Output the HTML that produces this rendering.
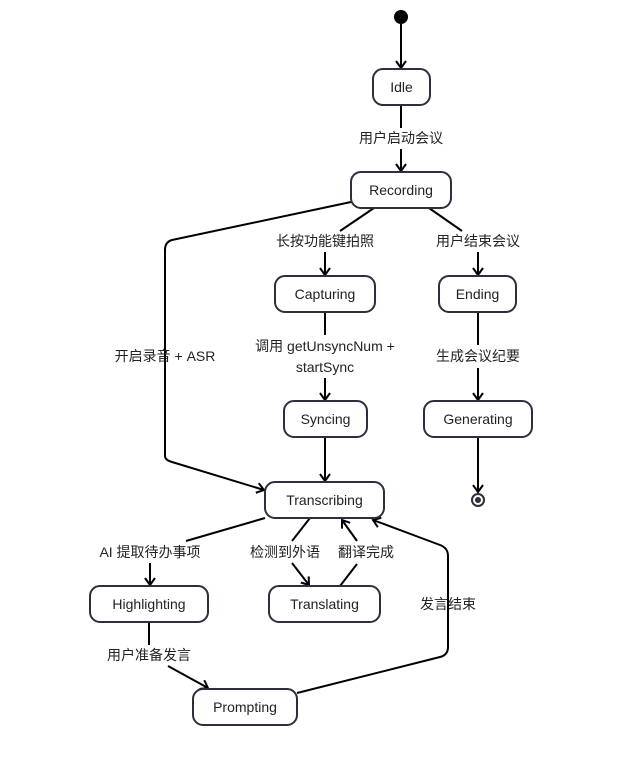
<!DOCTYPE html>
<html><head><meta charset="utf-8"><style>
html,body{margin:0;padding:0;background:#fff;}
text{font-family:"Liberation Sans","Noto Sans CJK SC",sans-serif;font-size:14px;fill:#333;}
.n{fill:#fff;stroke:#2e2e3e;stroke-width:2;}
.nt{font-size:14px;fill:#222;text-anchor:middle;dominant-baseline:central;}
.l{text-anchor:middle;dominant-baseline:central;fill:#222;}
.e{fill:none;stroke:#000;stroke-width:2;}
</style></head><body>
<svg width="626" height="762" viewBox="0 0 626 762" xmlns="http://www.w3.org/2000/svg">
<defs><marker id="a" markerWidth="12" markerHeight="12" refX="10" refY="6" orient="auto" markerUnits="userSpaceOnUse"><path d="M3,1 L10,6 L3,11" fill="none" stroke="#000" stroke-width="2"/></marker></defs>
<circle cx="401" cy="17" r="7" fill="#000"/>
<path class="e" d="M401,24 V68" marker-end="url(#a)"/>
<path class="e" d="M401,105 V128"/><path class="e" d="M401,149 V171" marker-end="url(#a)"/>
<path class="e" d="M374,208 L340,231"/><path class="e" d="M325,252 V275" marker-end="url(#a)"/>
<path class="e" d="M429,208 L462,231"/><path class="e" d="M478,252 V275" marker-end="url(#a)"/>
<path class="e" d="M351,202 L172,240 Q165,242 165,250 V456 Q165,460 172,462 L264,490" marker-end="url(#a)"/>
<path class="e" d="M325,312 V335"/><path class="e" d="M325,378 V400" marker-end="url(#a)"/>
<path class="e" d="M478,312 V345"/><path class="e" d="M478,368 V400" marker-end="url(#a)"/>
<path class="e" d="M478,437 V492" marker-end="url(#a)"/>
<path class="e" d="M325,437 V481" marker-end="url(#a)"/>
<path class="e" d="M265,518 L186,541"/><path class="e" d="M150,563 V585" marker-end="url(#a)"/>
<path class="e" d="M310,518 L292,541"/><path class="e" d="M292,563 L309,585" marker-end="url(#a)"/>
<path class="e" d="M340,586 L357,564"/><path class="e" d="M357,541 L342,520" marker-end="url(#a)"/>
<path class="e" d="M297,693 L440,657 Q448,655 448,647 V556 Q448,548 440,545 L373,520" marker-end="url(#a)"/>
<path class="e" d="M149,622 V645"/><path class="e" d="M168,666 L208,688" marker-end="url(#a)"/>
<circle cx="478" cy="500" r="6" fill="#fff" stroke="#2e2e3e" stroke-width="2"/><circle cx="478" cy="500" r="3" fill="#2e2e3e"/>
<rect class="n" x="373" y="69" width="57" height="36" rx="10"/><text class="nt" x="401.5" y="87">Idle</text>
<rect class="n" x="351" y="172" width="100" height="36" rx="10"/><text class="nt" x="401" y="190">Recording</text>
<rect class="n" x="275" y="276" width="100" height="36" rx="10"/><text class="nt" x="325" y="294">Capturing</text>
<rect class="n" x="439" y="276" width="77" height="36" rx="10"/><text class="nt" x="477.5" y="294">Ending</text>
<rect class="n" x="284" y="401" width="83" height="36" rx="10"/><text class="nt" x="325.5" y="419">Syncing</text>
<rect class="n" x="424" y="401" width="108" height="36" rx="10"/><text class="nt" x="478" y="419">Generating</text>
<rect class="n" x="265" y="482" width="119" height="36" rx="10"/><text class="nt" x="324.5" y="500">Transcribing</text>
<rect class="n" x="90" y="586" width="118" height="36" rx="10"/><text class="nt" x="149" y="604">Highlighting</text>
<rect class="n" x="269" y="586" width="111" height="36" rx="10"/><text class="nt" x="324.5" y="604">Translating</text>
<rect class="n" x="193" y="689" width="104" height="36" rx="10"/><text class="nt" x="245" y="707">Prompting</text>
<text class="l" x="401" y="138">用户启动会议</text>
<text class="l" x="325" y="241">长按功能键拍照</text>
<text class="l" x="478" y="241">用户结束会议</text>
<text class="l" x="165" y="356">开启录音 + ASR</text>
<text class="l" x="325" y="346">调用 getUnsyncNum +</text>
<text class="l" x="325" y="367">startSync</text>
<text class="l" x="478" y="356">生成会议纪要</text>
<text class="l" x="150" y="552">AI 提取待办事项</text>
<text class="l" x="285" y="552">检测到外语</text>
<text class="l" x="366" y="552">翻译完成</text>
<text class="l" x="448" y="604">发言结束</text>
<text class="l" x="149" y="655">用户准备发言</text>
</svg>
</body></html>
